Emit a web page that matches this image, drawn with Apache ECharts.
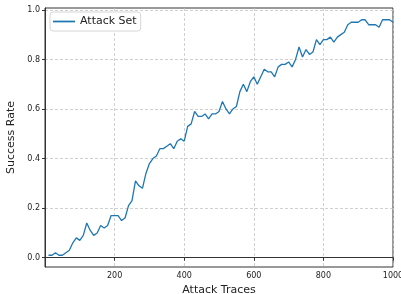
<!DOCTYPE html>
<html>
<head>
<meta charset="utf-8">
<script src="https://cdn.jsdelivr.net/npm/echarts@6/dist/echarts.min.js"></script>
<style>
  html, body { margin: 0; padding: 0; background: #fff; }
  #chart { width: 401px; height: 294px; }
</style>
</head>
<body>
<div id="chart"></div>
<script>
// attack traces (x) and success rate (y)
const traces = []
for (let t = 10; t <= 1000; t += 10) traces.push(t)
const successRate = [
  0.01, 0.01, 0.02, 0.01, 0.01, 0.02, 0.03, 0.06, 0.08, 0.07,
  0.09, 0.14, 0.11, 0.09, 0.10, 0.13, 0.12, 0.13, 0.17, 0.17,
  0.17, 0.15, 0.16, 0.21, 0.23, 0.31, 0.29, 0.28, 0.34, 0.38,
  0.40, 0.41, 0.44, 0.44, 0.45, 0.46, 0.44, 0.47, 0.48, 0.47,
  0.53, 0.54, 0.59, 0.57, 0.57, 0.58, 0.56, 0.58, 0.58, 0.59,
  0.63, 0.60, 0.58, 0.60, 0.61, 0.67, 0.70, 0.67, 0.71, 0.73,
  0.70, 0.73, 0.76, 0.75, 0.75, 0.73, 0.77, 0.78, 0.78, 0.79,
  0.77, 0.80, 0.85, 0.81, 0.84, 0.82, 0.83, 0.88, 0.86, 0.88,
  0.88, 0.89, 0.87, 0.89, 0.90, 0.91, 0.94, 0.95, 0.95, 0.95,
  0.96, 0.96, 0.94, 0.94, 0.94, 0.93, 0.96, 0.96, 0.96, 0.95
]
const yTicks = [0, 0.2, 0.4, 0.6, 0.8, 1.0]

const chart = echarts.init(document.getElementById('chart'))
const font = 'DejaVu Sans'
const gridLine = { show: true, lineStyle: { color: '#c4c4c4', type: [3, 2], width: 0.8 } }

chart.setOption({
  animation: false,
  textStyle: { fontFamily: font },
  grid: {
    left: 45, right: 8, top: 8, bottom: 27,
    containLabel: false,
    outerBoundsMode: 'none',
    show: true, borderColor: '#333', borderWidth: 1, backgroundColor: 'transparent'
  },
  legend: {
    data: ['Attack Set'],
    left: 50, top: 12,
    orient: 'vertical',
    icon: 'path://M0,0H1V0.08H0Z',
    itemWidth: 22, itemHeight: 2,
    itemGap: 4,
    padding: [4, 4, 4, 3],
    borderColor: '#d6d6d6', borderWidth: 1, borderRadius: 3,
    backgroundColor: '#fff',
    textStyle: { fontFamily: font, fontSize: 11, color: '#222' }
  },
  xAxis: {
    type: 'value',
    min: 0, max: 1000, interval: 200,
    name: 'Attack Traces',
    nameLocation: 'middle', nameGap: 14,
    nameTextStyle: { fontFamily: font, fontSize: 11, color: '#222' },
    axisLine: { show: true, lineStyle: { color: '#333', width: 1 } },
    axisTick: { show: true, length: 3, lineStyle: { color: '#333' } },
    axisLabel: {
      fontSize: 8, color: '#222', margin: 5,
      formatter: v => (v === 0 ? '' : String(v))
    },
    splitLine: gridLine
  },
  yAxis: {
    type: 'value',
    min: -0.0375, max: 1.0075,
    name: 'Success Rate',
    nameLocation: 'middle', nameGap: 26,
    nameTextStyle: { fontFamily: font, fontSize: 11, color: '#222' },
    axisLine: { show: true, lineStyle: { color: '#333', width: 1 } },
    axisTick: { show: true, length: 3, lineStyle: { color: '#333' }, customValues: yTicks },
    axisLabel: {
      fontSize: 8, color: '#222', margin: 5,
      customValues: yTicks,
      formatter: v => v.toFixed(1)
    },
    splitLine: gridLine
  },
  series: [{
    name: 'Attack Set',
    type: 'line',
    data: traces.map((t, i) => [t, successRate[i]]),
    showSymbol: false,
    symbol: 'none',
    lineStyle: { color: '#1f77b4', width: 1.3 },
    itemStyle: { color: '#1f77b4' }
  }]
})
</script>
</body>
</html>
